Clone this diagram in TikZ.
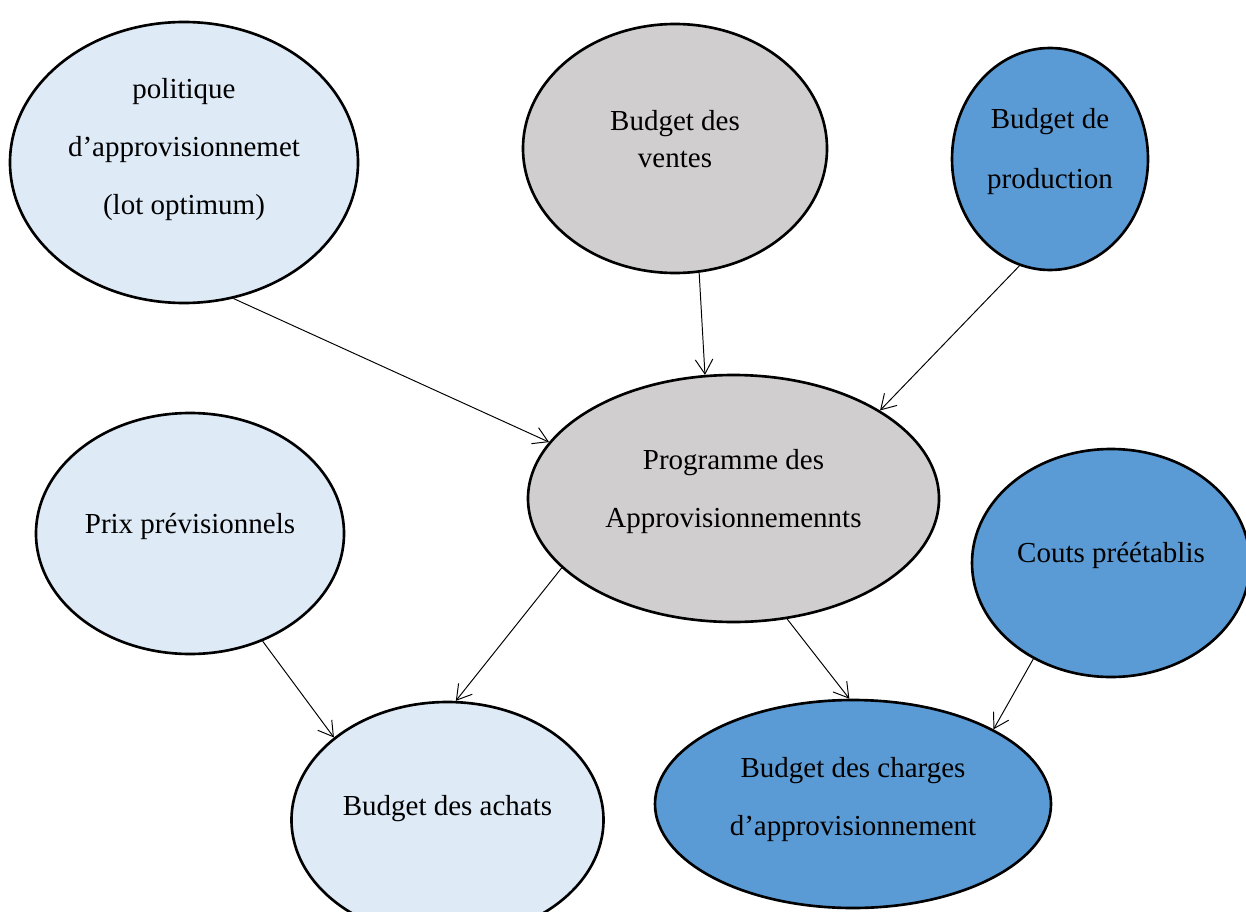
\documentclass[tikz,border=0pt]{standalone}
\usepackage{fontspec}
\setmainfont{Liberation Serif}
\usetikzlibrary{positioning,shapes.geometric,arrows.meta}
\definecolor{pastelblue}{RGB}{222,234,246}
\definecolor{softgray}{RGB}{208,206,206}
\definecolor{midblue}{RGB}{91,155,213}

\begin{document}
\begin{tikzpicture}[
        bulle/.style={ellipse, draw=black, line width=1.5pt, inner sep=0pt},
        txt/.style={align=center, font=\fontsize{16.5}{33}\selectfont},
        fleche/.style={-{Straight Barb[length=2.9mm,width=3.5mm]}, line width=0.55pt}
    ]
        \useasboundingbox (0,0) rectangle (24.92,-18.22);

        \node[bulle, fill=pastelblue, minimum width=6.96cm, minimum height=5.62cm] (pol) at (3.68,-3.25) {};
        \node[bulle, fill=softgray, minimum width=6.08cm, minimum height=4.98cm] (ventes) at (13.50,-2.97) {};
        \node[bulle, fill=midblue, minimum width=3.92cm, minimum height=4.44cm] (prod) at (21.00,-3.18) {};
        \node[bulle, fill=softgray, minimum width=8.22cm, minimum height=4.94cm] (prog) at (14.67,-9.97) {};
        \node[bulle, fill=pastelblue, minimum width=6.16cm, minimum height=4.82cm] (prix) at (3.80,-10.67) {};
        \node[bulle, fill=midblue, minimum width=5.56cm, minimum height=4.56cm] (couts) at (22.22,-11.26) {};
        \node[bulle, fill=pastelblue, minimum width=6.24cm, minimum height=4.72cm] (achats) at (8.95,-16.40) {};
        \node[bulle, fill=midblue, minimum width=7.92cm, minimum height=4.16cm] (charges) at (17.06,-16.08) {};

        \node[txt] (polT) at ([yshift=0.25cm]pol.center) {politique\\d’approvisionnemet\\(lot optimum)};
        \node[txt, font=\fontsize{16.5}{21}\selectfont] (ventesT) at ([yshift=0.19cm]ventes.center) {Budget des\\ventes};
        \node[txt, font=\fontsize{16.5}{34}\selectfont] (prodT) at ([yshift=0.15cm]prod.center) {Budget de\\production};
        \node[txt] (progT) at ([yshift=0.13cm]prog.center) {Programme des\\Approvisionnemennts};
        \node[txt] (prixT) at ([yshift=0.15cm]prix.center) {Prix prévisionnels};
        \node[txt] (coutsT) at ([yshift=0.16cm]couts.center) {Couts préétablis};
        \node[txt] (achatsT) at ([yshift=0.22cm]achats.center) {Budget des achats};
        \node[txt] (chargesT) at ([yshift=0.08cm]charges.center) {Budget des charges\\d’approvisionnement};

        \draw[fleche] (pol.-70) -- (prog.163);
        \draw[fleche] (ventes.-79.5) -- (prog.103);
        \draw[fleche] (prod.254.6) -- (prog.31.4);
        \draw[fleche] (prog.202.4) -- (achats.86.4);
        \draw[fleche] (prog.-66.2) -- (charges.92);
        \draw[fleche] (prix.-56.7) -- (achats.144.4);
        \draw[fleche] (couts.231.9) -- (charges.28.4);
    \end{tikzpicture}
\end{document}
